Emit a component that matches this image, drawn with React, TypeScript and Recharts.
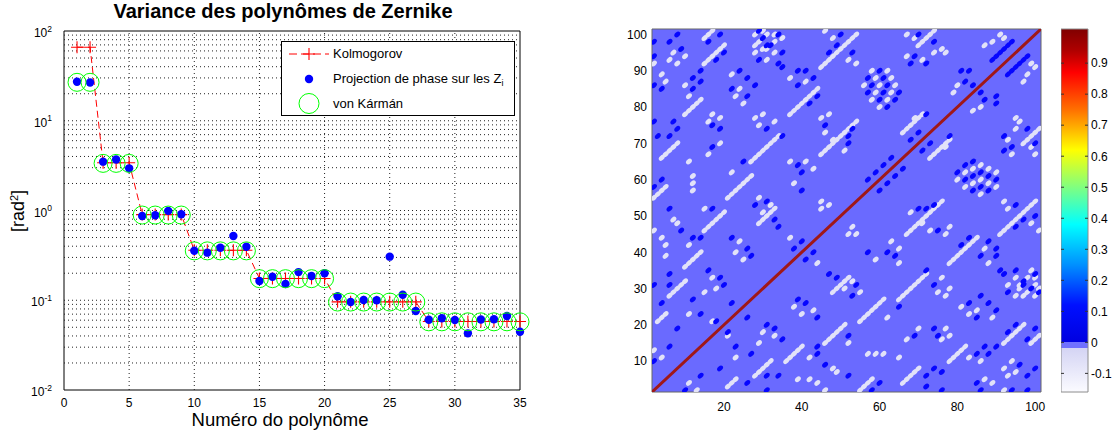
import React from 'react';
import {
  ComposedChart,
  ScatterChart,
  Scatter,
  Line,
  XAxis,
  YAxis,
  ReferenceArea,
  ReferenceLine,
  CartesianGrid,
  Legend,
} from 'recharts';

const FONT = '"Liberation Sans", Arial, Helvetica, sans-serif';

/* ---------------- left panel : variance of Zernike modes ---------------- */
const modes = [1, 2, 3, 4, 5, 6, 7, 8, 9, 10, 11, 12, 13, 14, 15, 16, 17, 18, 19, 20, 21, 22, 23, 24, 25, 26, 27, 28, 29, 30, 31, 32, 33, 34, 35];
const kolmogorov = [66, 66, 3.4, 3.4, 3.4, 0.9, 0.9, 0.9, 0.9, 0.36, 0.36, 0.36, 0.36, 0.36, 0.175, 0.175, 0.175, 0.175, 0.175, 0.175, 0.096, 0.096, 0.096, 0.096, 0.096, 0.096, 0.096, 0.058, 0.058, 0.058, 0.058, 0.058, 0.058, 0.058, 0.058];
const projection = [27.2, 26.7, 3.5, 3.7, 2.95, 0.87, 0.885, 0.99, 0.91, 0.356, 0.339, 0.385, 0.52, 0.395, 0.164, 0.183, 0.152, 0.206, 0.186, 0.2, 0.111, 0.0957, 0.1007, 0.1, 0.306, 0.115, 0.0759, 0.0607, 0.0629, 0.0603, 0.0428, 0.061, 0.0615, 0.0668, 0.0446];
const vonKarman = [26.8, 26.8, 3.35, 3.35, 3.35, 0.89, 0.89, 0.89, 0.89, 0.355, 0.355, 0.355, 0.355, 0.355, 0.174, 0.174, 0.174, 0.174, 0.174, 0.174, 0.0955, 0.0955, 0.0955, 0.0955, 0.0955, 0.0955, 0.0955, 0.0575, 0.0575, 0.0575, 0.0575, 0.0575, 0.0575, 0.0575, 0.0575];

const xTicks = [0, 5, 10, 15, 20, 25, 30, 35];
const yTicks = [0.01, 0.1, 1, 10, 100];
const yTickExponents = ['-2', '-1', '0', '1', '2'];
const xGridValues = [5, 10, 15, 20, 25, 30];
const yGridValues = [
  0.02, 0.03, 0.04, 0.05, 0.06, 0.07, 0.08, 0.09, 0.1,
  0.2, 0.3, 0.4, 0.5, 0.6, 0.7, 0.8, 0.9, 1,
  2, 3, 4, 5, 6, 7, 8, 9, 10,
  20, 30, 40, 50, 60, 70, 80, 90,
];

/* ---------------- right panel : correlation map ---------------- */
const matXTicks = [20, 40, 60, 80, 100];
const matYTicks = [10, 20, 30, 40, 50, 60, 70, 80, 90, 100];
const matExtent = [1.5, 101.5];
const colorbarTicks = [-0.1, 0, 0.1, 0.2, 0.3, 0.4, 0.5, 0.6, 0.7, 0.8, 0.9];
const colorbarRange = [-0.16, 1.01];
const DIAG_VALUE = 1;
const NEG_LEVEL = -0.12;
const POS_LEVEL = 0.08;

// upper-triangle features (the matrix is symmetric): [col, row, length] diagonal runs
const negRuns: number[][] = [
  [15, 99, 3], [15, 92, 6], [10, 78, 5], [37, 78, 8], [45, 91, 10], [27, 65, 8], [21, 55, 7],
  [4, 66, 5], [2, 55, 4], [45, 67, 5], [15, 46, 6], [10, 36, 5], [3, 21, 3], [6, 28, 5],
  [29, 48, 5], [70, 97, 5], [50, 72, 5], [66, 73, 6],
];
const negCells: number[][] = [
  [7, 95], [10, 94], [6, 93], [8, 92], [2, 92], [4, 89], [5, 87], [10, 86], [11, 83], [12, 59],
  [12, 57], [11, 65], [12, 61], [16, 76], [19, 77], [17, 78], [19, 70], [16, 67], [24, 85], [23, 83],
  [22, 89], [25, 81], [22, 62], [31, 100], [35, 99], [33, 98], [29, 98], [28, 95], [31, 96], [31, 93],
  [37, 88], [41, 87], [46, 101], [48, 99], [28, 77], [30, 78], [29, 75], [33, 76], [45, 77], [47, 78],
  [46, 73], [48, 71], [37, 65], [41, 65], [43, 63], [38, 59], [29, 55], [32, 53], [45, 54], [47, 53],
  [7, 49], [8, 48], [2, 46], [4, 44], [5, 42], [11, 42], [5, 39], [2, 13], [4, 11], [24, 43],
  [23, 40], [25, 38], [17, 33], [15, 29], [18, 30], [15, 52], [30, 51], [37, 44], [45, 52], [11, 23],
  [17, 21], [52, 93], [54, 92], [67, 100], [69, 99], [76, 96], [77, 95], [67, 94], [71, 93], [74, 95],
  [56, 86], [60, 86], [64, 86], [59, 88], [63, 88], [58, 90], [62, 90], [59, 84], [63, 84], [58, 82],
  [62, 82], [60, 80], [80, 86], [79, 84], [91, 100], [92, 99], [89, 98], [87, 97], [51, 68], [69, 77],
  [28, 100], [30, 101], [33, 100], [28, 97], [30, 96], [33, 95],
];
const posRuns: number[][] = [[89, 93, 6]];
const posCells: number[][] = [
  [8, 100], [6, 98], [2, 98], [9, 96], [2, 86], [4, 85], [19, 100], [16, 98], [18, 93], [20, 95],
  [14, 90], [12, 88], [14, 87], [12, 85], [2, 76], [7, 76], [8, 74], [6, 72], [3, 72], [4, 60],
  [2, 58], [17, 75], [19, 74], [17, 69], [22, 85], [26, 83], [24, 90], [26, 88], [28, 86], [25, 65],
  [29, 101], [34, 100], [31, 97], [29, 93], [34, 92], [39, 90], [41, 90], [39, 86], [43, 88], [44, 83],
  [42, 81], [47, 95], [49, 97], [50, 100], [31, 74], [35, 72], [46, 75], [52, 72], [39, 64], [40, 62],
  [40, 57], [31, 54], [6, 52], [9, 46], [12, 44], [14, 44], [6, 34], [2, 31], [6, 31], [4, 26],
  [6, 14], [8, 19], [2, 10], [22, 44], [26, 41], [27, 39], [16, 35], [19, 33], [20, 31], [17, 52],
  [22, 26], [28, 53], [33, 49], [34, 47], [40, 43], [38, 41], [12, 27], [14, 23], [18, 21], [53, 95],
  [70, 100], [74, 98], [69, 94], [72, 92], [68, 92], [58, 86], [62, 86], [57, 88], [61, 88], [60, 90],
  [57, 84], [61, 84], [65, 84], [60, 82], [64, 82], [62, 80], [81, 90], [83, 90], [82, 87], [84, 86],
  [53, 74], [52, 70], [68, 71], [70, 73], [72, 78], [57, 60], [59, 62], [61, 64], [63, 66],
  [2, 94], [30, 99], [32, 97], [35, 95], [35, 91],
];

type Cell = { x: number; y: number; v: number };
function buildCells(runs: number[][], cells: number[][], value: number): Cell[] {
  const out: Cell[] = [];
  const add = (x: number, y: number) => {
    out.push({ x, y, v: value });
    out.push({ x: y, y: x, v: value });
  };
  runs.forEach(([x, y, n]) => {
    for (let k = 0; k < n; k++) add(x + k, y + k);
  });
  cells.forEach(([x, y]) => add(x, y));
  return out;
}

// colormap (jet above 0, pale band below 0)
const cmap: [number, string][] = [
  [1.01, '#800000'], [0.94, '#b00000'], [0.87, '#ff0000'], [0.75, '#ff7000'], [0.62, '#ffff00'],
  [0.5, '#80ff80'], [0.38, '#00ffff'], [0.25, '#0090ff'], [0.12, '#0010ff'], [0.0, '#0000e0'],
];
const colorOf = (v: number) => {
  if (v >= 0.95) return '#a01818';
  if (v < -0.02) return '#e2e2f8';
  if (v < 0) return '#6a6aff';
  return '#0606ff';
};

const blobShape = (p: any) => (
  <ellipse
    cx={p.cx}
    cy={p.cy}
    rx={3.4}
    ry={2.3}
    fill={colorOf(p.payload ? p.payload.v : p.v)}
    transform={`rotate(-43 ${p.cx} ${p.cy})`}
  />
);

/* ---------------- small render helpers ---------------- */
const PlusDot = (p: any) => {
  const { cx, cy, key } = p;
  if (cx == null || cy == null) return <g key={key} />;
  return <path key={key} d={`M${cx - 6},${cy}h12M${cx},${cy - 6}v12`} stroke="#ff0000" strokeWidth={1.1} fill="none" />;
};
const BlueDot = (p: any) => {
  const { cx, cy, key } = p;
  if (cx == null || cy == null) return <g key={key} />;
  return <circle key={key} cx={cx} cy={cy} r={4.2} fill="#0000ff" stroke="none" />;
};
const GreenCircle = (p: any) => {
  const { cx, cy, key } = p;
  if (cx == null || cy == null) return <g key={key} />;
  return <circle key={key} cx={cx} cy={cy} r={9} fill="none" stroke="#00ff00" strokeWidth={1} />;
};

const LogTick = (p: any) => {
  const idx = yTicks.indexOf(p.payload.value);
  return (
    <text x={p.x} y={p.y} dy={6} textAnchor="end" fontFamily={FONT} fontSize={12} fill="#000">
      10
      <tspan dy={-5.5} fontSize={8.5}>
        {yTickExponents[idx]}
      </tspan>
    </text>
  );
};

const CbTick = (p: any) => (
  <g>
    <line x1={0} x2={3} y1={p.y} y2={p.y} stroke="#333" />
    <line x1={24} x2={27} y1={p.y} y2={p.y} stroke="#333" />
    <text x={p.x} y={p.y} dy={4.3} fontFamily={FONT} fontSize={12} fill="#000">
      {String(p.payload.value)}
    </text>
  </g>
);

const LegendBox = () => (
  <div
    style={{
      width: 234,
      height: 75,
      border: '1px solid #000',
      background: '#fff',
      boxSizing: 'border-box',
      position: 'relative',
      fontFamily: FONT,
      fontSize: 13,
      color: '#000',
    }}
  >
    <svg width={52} height={73} style={{ position: 'absolute', left: 0, top: 0 }}>
      <line x1={7} x2={47} y1={12} y2={12} stroke="#ff0000" strokeDasharray="8 4" />
      <path d="M21,12h12M27,6v12" stroke="#ff0000" strokeWidth={1.1} />
      <circle cx={27} cy={37} r={4.2} fill="#0000ff" />
      <circle cx={27} cy={61.5} r={10} fill="none" stroke="#00ff00" />
    </svg>
    <div style={{ position: 'absolute', left: 51, top: 4, lineHeight: '15px', whiteSpace: 'nowrap' }}>Kolmogorov</div>
    <div style={{ position: 'absolute', left: 51, top: 29, lineHeight: '15px', whiteSpace: 'nowrap' }}>
      Projection de phase sur les Z<sub style={{ fontSize: 9, verticalAlign: '-3px' }}>i</sub>
    </div>
    <div style={{ position: 'absolute', left: 51, top: 54, lineHeight: '15px', whiteSpace: 'nowrap' }}>von Kármán</div>
  </div>
);

export default function App() {
  const chartData = modes.map((m, i) => ({ mode: m, kolmo: kolmogorov[i], proj: projection[i], vk: vonKarman[i] }));
  const negData = buildCells(negRuns, negCells, NEG_LEVEL);
  const posData = buildCells(posRuns, posCells, POS_LEVEL);
  const diagData = [
    { x: matExtent[0], y: matExtent[0], v: DIAG_VALUE },
    { x: matExtent[1], y: matExtent[1], v: DIAG_VALUE },
  ];
  const span = colorbarRange[1] - colorbarRange[0];
  const off = (v: number) => (colorbarRange[1] - v) / span;

  return (
    <div
      style={{
        position: 'absolute',
        left: 0,
        top: 0,
        width: 1115,
        height: 436,
        background: '#fff',
        fontFamily: FONT,
        overflow: 'hidden',
      }}
    >
      {/* ---------- left chart ---------- */}
      <div style={{ position: 'absolute', left: 0, top: 1, width: 566, textAlign: 'center', fontSize: 20, fontWeight: 'bold', lineHeight: '20px', color: '#000' }}>
        Variance des polynômes de Zernike
      </div>
      <div style={{ position: 'absolute', left: 0, top: 411, width: 560, textAlign: 'center', fontSize: 18.5, lineHeight: '18px', color: '#000' }}>
        Numéro do polynôme
      </div>
      <div
        style={{
          position: 'absolute',
          left: -36,
          top: 201,
          width: 100,
          height: 20,
          lineHeight: '20px',
          textAlign: 'center',
          fontSize: 18,
          color: '#000',
          transform: 'rotate(-90deg)',
        }}
      >
        [rad<sup style={{ fontSize: 11, verticalAlign: '6px' }}>2</sup>]
      </div>

      <div style={{ position: 'absolute', left: 0, top: 0 }}>
        <ComposedChart width={560} height={436} data={chartData} margin={{ top: 31, right: 40, bottom: 20, left: 0 }}>
          <XAxis
            dataKey="mode"
            type="number"
            domain={[0, 35]}
            ticks={xTicks}
            height={26}
            tickLine={false}
            axisLine={false}
            tickMargin={2.5}
            tick={{ fill: '#000', fontSize: 12, fontFamily: FONT }}
          />
          <YAxis
            type="number"
            scale="log"
            domain={[0.01, 100]}
            ticks={yTicks}
            width={64}
            tickLine={false}
            axisLine={false}
            tickSize={0}
            tickMargin={12}
            tick={LogTick}
          />
          {yGridValues.map((v) => (
            <ReferenceLine key={`gy${v}`} y={v} stroke="#222" strokeDasharray="1 3" strokeWidth={1} />
          ))}
          {xGridValues.map((v) => (
            <ReferenceLine key={`gx${v}`} x={v} stroke="#222" strokeDasharray="1 3" strokeWidth={1} />
          ))}
          <Line dataKey="kolmo" stroke="#ff0000" strokeWidth={1} strokeDasharray="7 4" dot={PlusDot} activeDot={false} isAnimationActive={false} />
          <Line dataKey="proj" stroke="none" dot={BlueDot} activeDot={false} isAnimationActive={false} />
          <Line dataKey="vk" stroke="none" dot={GreenCircle} activeDot={false} isAnimationActive={false} />
          <ReferenceArea x1={0} x2={35} y1={0.01} y2={100} fill="none" stroke="#000" strokeWidth={1} ifOverflow="visible" />
          <Legend
            layout="vertical"
            align="center"
            verticalAlign="middle"
            content={LegendBox}
            wrapperStyle={{ position: 'absolute', left: 281, top: 41, width: 234, height: 75 }}
          />
        </ComposedChart>
      </div>

      {/* ---------- heat map ---------- */}
      <div style={{ position: 'absolute', left: 600, top: 0 }}>
        <ScatterChart width={460} height={436} margin={{ top: 29, right: 19, bottom: 19, left: 22 }}>
          <CartesianGrid fill="#6a6aff" fillOpacity={1} horizontal={false} vertical={false} />
          <XAxis
            dataKey="x"
            type="number"
            domain={matExtent}
            ticks={matXTicks}
            height={25}
            tickLine={false}
            axisLine={false}
            tickMargin={4}
            allowDataOverflow
            tick={{ fill: '#000', fontSize: 12, fontFamily: FONT }}
          />
          <YAxis
            dataKey="y"
            type="number"
            domain={matExtent}
            ticks={matYTicks}
            width={30}
            tickLine={false}
            axisLine={false}
            tickSize={0}
            tickMargin={5}
            allowDataOverflow
            tick={{ fill: '#000', fontSize: 12, fontFamily: FONT }}
          />
          <Scatter data={negData} shape={blobShape} isAnimationActive={false} />
          <Scatter data={posData} shape={blobShape} isAnimationActive={false} />
          <Scatter
            data={diagData}
            line={{ stroke: colorOf(DIAG_VALUE), strokeWidth: 3 }}
            shape={() => <g />}
            isAnimationActive={false}
          />
          <ReferenceArea x1={matExtent[0]} x2={matExtent[1]} y1={matExtent[0]} y2={matExtent[1]} fill="none" stroke="#666" ifOverflow="visible" />
        </ScatterChart>
      </div>

      {/* ---------- colour bar ---------- */}
      <div style={{ position: 'absolute', left: 1061, top: 0 }}>
        <ComposedChart width={54} height={436} data={[{ x: 0 }, { x: 1 }]} margin={{ top: 29, right: 0, bottom: 44, left: 0 }}>
          <defs>
            <linearGradient id="cbarGrad" x1="0" y1="0" x2="0" y2="1">
              {cmap.map(([v, c], i) => (
                <stop key={i} offset={off(v)} stopColor={c} />
              ))}
              <stop offset={off(0)} stopColor="#7070ff" />
              <stop offset={off(-0.018)} stopColor="#7070ff" />
              <stop offset={off(-0.018)} stopColor="#d4d4f4" />
              <stop offset={1} stopColor="#fbfbff" />
            </linearGradient>
          </defs>
          <XAxis dataKey="x" type="number" domain={[0, 1]} hide />
          <YAxis
            type="number"
            orientation="right"
            domain={colorbarRange}
            ticks={colorbarTicks}
            width={27}
            tickLine={false}
            axisLine={false}
            tickSize={0}
            tickMargin={3}
            allowDataOverflow
            tick={CbTick}
          />
          <ReferenceArea
            y1={colorbarRange[0]}
            y2={colorbarRange[1]}
            fill="url(#cbarGrad)"
            fillOpacity={1}
            stroke="#8c8c8c"
            strokeOpacity={1}
            ifOverflow="visible"
          />
        </ComposedChart>
      </div>
    </div>
  );
}
